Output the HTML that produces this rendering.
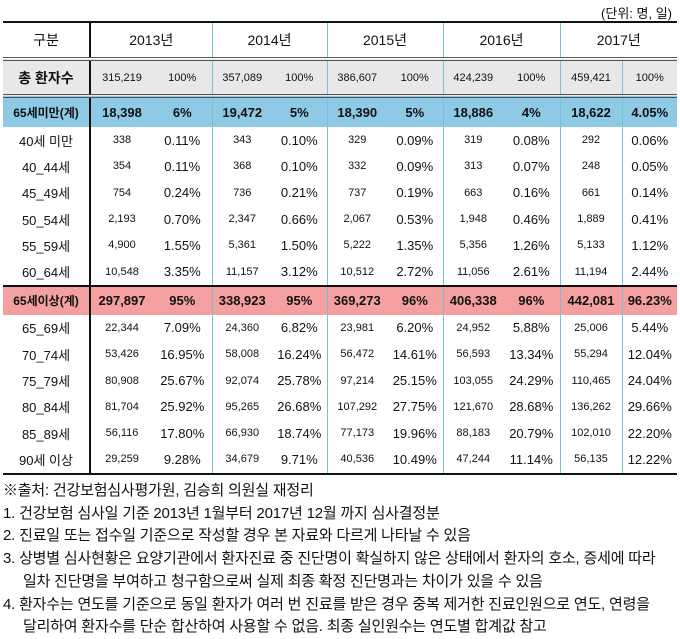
<!DOCTYPE html>
<html><head><meta charset="utf-8"><style>
body{margin:0;width:680px;height:630px;background:#fff;font-family:"Liberation Sans","Noto Sans CJK KR",sans-serif;color:#111;position:relative;overflow:hidden}
.unit{position:absolute;right:8px;top:3px;font-size:13px}
table{position:absolute;left:3px;top:21px;width:674px;border-collapse:collapse;table-layout:fixed;border-top:2px solid #111;border-bottom:2px solid #111}
td{padding:0;text-align:center;white-space:nowrap}
td.c0{border-right:2px solid #111;font-size:13px}
td.yd{border-right:1px solid #7bbfd3}
.hd td{height:34px;font-size:14px}
.tot td{height:33px;background:#e8e8e8;font-size:11px;border-top:4px double #555;border-bottom:4px double #555}
.tot td.c0{font-size:14px;font-weight:bold}
.blue td{height:29px;background:#8ecae6;font-weight:bold;font-size:13px}
.pink td{height:28px;background:#f4a0a0;font-weight:bold;font-size:13px;border-top:2px solid #111}
.r td{height:26.3px;font-size:11px}
.r td.p{font-size:13px}
.r td.c0{font-size:13px}
.blue td.c0,.pink td.c0{font-size:12px}
.notes{position:absolute;left:3px;top:480px;font-size:15px;line-height:22.7px;letter-spacing:-0.2px}
.notes div{white-space:nowrap}
.ind{padding-left:20px}
</style></head><body>
<div class="unit">(단위: 명, 일)</div>
<table>
<colgroup><col style="width:87px"><col style="width:63px"><col style="width:59px"><col style="width:60px"><col style="width:55px"><col style="width:60px"><col style="width:56px"><col style="width:60px"><col style="width:57px"><col style="width:62px"><col style="width:55px"></colgroup>
<tr class="hd"><td class="c0">구분</td><td colspan="2" class="yd">2013년</td><td colspan="2" class="yd">2014년</td><td colspan="2" class="yd">2015년</td><td colspan="2" class="yd">2016년</td><td colspan="2">2017년</td></tr>
<tr class="tot"><td class="c0">총 환자수</td><td>315,219</td><td class="yd">100%</td><td>357,089</td><td class="yd">100%</td><td>386,607</td><td class="yd">100%</td><td>424,239</td><td class="yd">100%</td><td class="yd">459,421</td><td>100%</td></tr>
<tr class="blue"><td class="c0">65세미만(계)</td><td>18,398</td><td class="yd">6%</td><td>19,472</td><td class="yd">5%</td><td>18,390</td><td class="yd">5%</td><td>18,886</td><td class="yd">4%</td><td class="yd">18,622</td><td>4.05%</td></tr>
<tr class="r"><td class="c0">40세 미만</td><td>338</td><td class="p yd">0.11%</td><td>343</td><td class="p yd">0.10%</td><td>329</td><td class="p yd">0.09%</td><td>319</td><td class="p yd">0.08%</td><td class="yd">292</td><td class="p">0.06%</td></tr>
<tr class="r"><td class="c0">40_44세</td><td>354</td><td class="p yd">0.11%</td><td>368</td><td class="p yd">0.10%</td><td>332</td><td class="p yd">0.09%</td><td>313</td><td class="p yd">0.07%</td><td class="yd">248</td><td class="p">0.05%</td></tr>
<tr class="r"><td class="c0">45_49세</td><td>754</td><td class="p yd">0.24%</td><td>736</td><td class="p yd">0.21%</td><td>737</td><td class="p yd">0.19%</td><td>663</td><td class="p yd">0.16%</td><td class="yd">661</td><td class="p">0.14%</td></tr>
<tr class="r"><td class="c0">50_54세</td><td>2,193</td><td class="p yd">0.70%</td><td>2,347</td><td class="p yd">0.66%</td><td>2,067</td><td class="p yd">0.53%</td><td>1,948</td><td class="p yd">0.46%</td><td class="yd">1,889</td><td class="p">0.41%</td></tr>
<tr class="r"><td class="c0">55_59세</td><td>4,900</td><td class="p yd">1.55%</td><td>5,361</td><td class="p yd">1.50%</td><td>5,222</td><td class="p yd">1.35%</td><td>5,356</td><td class="p yd">1.26%</td><td class="yd">5,133</td><td class="p">1.12%</td></tr>
<tr class="r"><td class="c0">60_64세</td><td>10,548</td><td class="p yd">3.35%</td><td>11,157</td><td class="p yd">3.12%</td><td>10,512</td><td class="p yd">2.72%</td><td>11,056</td><td class="p yd">2.61%</td><td class="yd">11,194</td><td class="p">2.44%</td></tr>
<tr class="pink"><td class="c0">65세이상(계)</td><td>297,897</td><td class="yd">95%</td><td>338,923</td><td class="yd">95%</td><td>369,273</td><td class="yd">96%</td><td>406,338</td><td class="yd">96%</td><td class="yd">442,081</td><td>96.23%</td></tr>
<tr class="r"><td class="c0">65_69세</td><td>22,344</td><td class="p yd">7.09%</td><td>24,360</td><td class="p yd">6.82%</td><td>23,981</td><td class="p yd">6.20%</td><td>24,952</td><td class="p yd">5.88%</td><td class="yd">25,006</td><td class="p">5.44%</td></tr>
<tr class="r"><td class="c0">70_74세</td><td>53,426</td><td class="p yd">16.95%</td><td>58,008</td><td class="p yd">16.24%</td><td>56,472</td><td class="p yd">14.61%</td><td>56,593</td><td class="p yd">13.34%</td><td class="yd">55,294</td><td class="p">12.04%</td></tr>
<tr class="r"><td class="c0">75_79세</td><td>80,908</td><td class="p yd">25.67%</td><td>92,074</td><td class="p yd">25.78%</td><td>97,214</td><td class="p yd">25.15%</td><td>103,055</td><td class="p yd">24.29%</td><td class="yd">110,465</td><td class="p">24.04%</td></tr>
<tr class="r"><td class="c0">80_84세</td><td>81,704</td><td class="p yd">25.92%</td><td>95,265</td><td class="p yd">26.68%</td><td>107,292</td><td class="p yd">27.75%</td><td>121,670</td><td class="p yd">28.68%</td><td class="yd">136,262</td><td class="p">29.66%</td></tr>
<tr class="r"><td class="c0">85_89세</td><td>56,116</td><td class="p yd">17.80%</td><td>66,930</td><td class="p yd">18.74%</td><td>77,173</td><td class="p yd">19.96%</td><td>88,183</td><td class="p yd">20.79%</td><td class="yd">102,010</td><td class="p">22.20%</td></tr>
<tr class="r"><td class="c0">90세 이상</td><td>29,259</td><td class="p yd">9.28%</td><td>34,679</td><td class="p yd">9.71%</td><td>40,536</td><td class="p yd">10.49%</td><td>47,244</td><td class="p yd">11.14%</td><td class="yd">56,135</td><td class="p">12.22%</td></tr>
</table>
<div class="notes">
<div>※출처: 건강보험심사평가원, 김승희 의원실 재정리</div>
<div>1. 건강보험 심사일 기준 2013년 1월부터 2017년 12월 까지 심사결정분</div>
<div>2. 진료일 또는 접수일 기준으로 작성할 경우 본 자료와 다르게 나타날 수 있음</div>
<div>3. 상병별 심사현황은 요양기관에서 환자진료 중 진단명이 확실하지 않은 상태에서 환자의 호소, 증세에 따라</div>
<div class="ind">일차 진단명을 부여하고 청구함으로써 실제 최종 확정 진단명과는 차이가 있을 수 있음</div>
<div>4. 환자수는 연도를 기준으로 동일 환자가 여러 번 진료를 받은 경우 중복 제거한 진료인원으로 연도, 연령을</div>
<div class="ind">달리하여 환자수를 단순 합산하여 사용할 수 없음. 최종 실인원수는 연도별 합계값 참고</div>
</div>
</body></html>
